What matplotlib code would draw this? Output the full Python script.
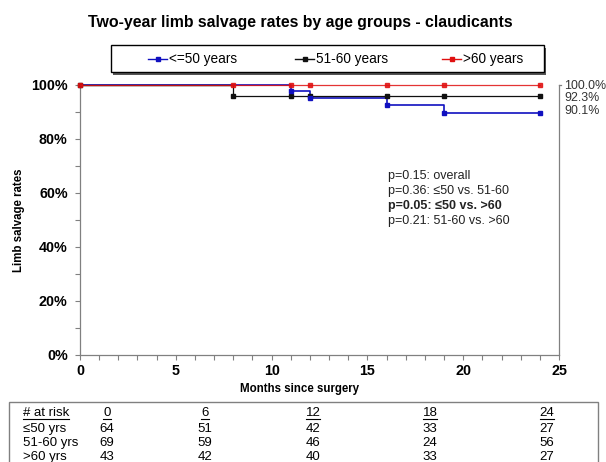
import matplotlib
matplotlib.use("Agg")
import matplotlib.pyplot as plt
from matplotlib.lines import Line2D
from matplotlib.patches import Rectangle
from matplotlib.ticker import MultipleLocator

plt.rcParams["font.family"] = ["Liberation Sans", "DejaVu Sans"]

# Kaplan-Meier steps (months, % limb salvage)
young_t = [0, 11, 12, 16, 19, 24]
young_s = [100, 97.7, 95.1, 92.5, 89.8, 89.8]
mid_t = [0, 8, 11, 12, 16, 19, 24]
mid_s = [100, 96.0, 96.0, 96.0, 96.0, 96.0, 96.0]
old_t = [0, 8, 11, 12, 16, 19, 24]
old_s = [100, 100, 100, 100, 100, 100, 100]
marker_young = [11, 12, 16, 19, 24]

series_names = ["<=50 years", "51-60 years", ">60 years"]
end_labels = ["100.0%", "92.3%", "90.1%"]
pvals = ["p=0.15: overall", "p=0.36: \u226450 vs. 51-60",
         "p=0.05: \u226450 vs. >60", "p=0.21: 51-60 vs. >60"]

risk_times = ["0", "6", "12", "18", "24"]
risk_groups = ["\u226450 yrs", "51-60 yrs", ">60 yrs"]
risk_young = [64, 51, 42, 33, 27]
risk_mid = [69, 59, 46, 24, 56]
risk_old = [43, 42, 40, 33, 27]

BLUE, BLACK, RED, GREY = "#1010c0", "#101010", "#e01010", "#808080"
W, H = 606, 462


def fx(px):
    return px / W


def fy(py):
    return 1 - py / H


fig = plt.figure(figsize=(6.06, 4.62), dpi=100)
ax = fig.add_axes([fx(80), fy(355), 479 / W, 270 / H])

ax.step(young_t, young_s, where="post", color=BLUE, lw=1.2, clip_on=False, zorder=3)
ax.plot(marker_young, [young_s[young_t.index(t)] for t in marker_young],
        ls="none", marker="s", ms=2.5, color=BLUE, clip_on=False, zorder=4)
ax.step(mid_t, mid_s, where="post", color=BLACK, lw=0.9, marker="s", ms=2.5,
        clip_on=False, zorder=3)
ax.plot([0, 8], [100, 100], color=BLACK, lw=0.9, clip_on=False, zorder=2)
ax.step(old_t, old_s, where="post", color=RED, lw=0.9, alpha=0.85, marker="s", ms=3,
        markeredgecolor=RED, clip_on=False, zorder=5)

ax.set_xlim(0, 25)
ax.set_ylim(0, 100)
ax.xaxis.set_major_locator(MultipleLocator(5))
ax.xaxis.set_minor_locator(MultipleLocator(1))
ax.yaxis.set_major_locator(MultipleLocator(20))
ax.yaxis.set_minor_locator(MultipleLocator(10))
ax.set_yticklabels([f"{int(v)}%" for v in ax.get_yticks()])
for lab in ax.get_xticklabels() + ax.get_yticklabels():
    lab.set_fontweight("bold")
ax.tick_params(which="both", direction="out", length=3.5, color=GREY, width=0.8,
               labelsize=10.3)
ax.tick_params(axis="y", pad=5.4)
ax.tick_params(axis="x", pad=3)
ax.spines["top"].set_visible(False)
for s in ["left", "bottom", "right"]:
    ax.spines[s].set_color(GREY)
    ax.spines[s].set_linewidth(0.9)
ax.plot([25, 25.1], [100, 100], color=GREY, lw=0.9, clip_on=False)

ax.set_xlabel("Months since surgery", fontsize=8.3, fontweight="bold")
ax.xaxis.set_label_coords((300 - 80) / 479, -0.105)
ax.set_ylabel("Limb salvage rates", fontsize=8.3, fontweight="bold")
ax.yaxis.set_label_coords(-0.115, 0.5)

for i, t in enumerate(end_labels):
    fig.text(fx(564), fy(86 + 12.3 * i), t, fontsize=8.9, va="center", color="#333333")

for i, t in enumerate(pvals):
    fig.text(fx(388), fy(176.5 + 14.8 * i), t, fontsize=9, va="center",
             fontweight="bold" if i == 2 else "normal", color="#222222")

fig.text(fx(300), fy(22), "Two-year limb salvage rates by age groups - claudicants",
         ha="center", va="center", fontsize=11.4, fontweight="bold")

# legend box (Excel style, evenly spaced entries, drop shadow)
fig.patches.append(Rectangle((fx(113), fy(74.5)), 433 / W, 27 / H, transform=fig.transFigure,
                             fc="#555555", ec="none", zorder=1))
fig.patches.append(Rectangle((fx(111), fy(72)), 433 / W, 27 / H, transform=fig.transFigure,
                             fc="white", ec="black", lw=1.0, zorder=2))
for i, (name, c) in enumerate(zip(series_names, (BLUE, BLACK, RED))):
    x0 = 148 + 147 * i
    fig.add_artist(Line2D([fx(x0), fx(x0 + 19)], [fy(58.5)] * 2, transform=fig.transFigure,
                          color=c, lw=1, zorder=3))
    fig.add_artist(Line2D([fx(x0 + 9.5)], [fy(58.5)], transform=fig.transFigure, color=c,
                          marker="s", ms=2.5, zorder=3))
    fig.text(fx(x0 + 21), fy(58.5), name, fontsize=9.8, va="center", zorder=3)

# number-at-risk table
fig.patches.append(Rectangle((fx(9), -0.05), 589 / W, 0.05 + fy(402),
                             transform=fig.transFigure, fill=False, ec=GREY, lw=1))
col_x = [107, 205, 313, 430, 547]
header = [fig.text(fx(23), fy(413.5), "# at risk", fontsize=9.5, va="center")]
for x, t in zip(col_x, risk_times):
    header.append(fig.text(fx(x), fy(413.5), t, fontsize=9.5, va="center", ha="center"))
for r, (g, vals) in enumerate(zip(risk_groups, [risk_young, risk_mid, risk_old])):
    y = fy(429 + 14 * r)
    fig.text(fx(23), y, g, fontsize=9.5, va="center")
    for x, v in zip(col_x, vals):
        fig.text(fx(x), y, str(v), fontsize=9.5, va="center", ha="center")

fig.canvas.draw()
inv = fig.transFigure.inverted()
for h in header:
    bb = h.get_window_extent()
    (x0, y0), (x1, _) = inv.transform([(bb.x0, bb.y0 + 1), (bb.x1, bb.y0)])
    fig.add_artist(Line2D([x0, x1], [y0, y0], transform=fig.transFigure,
                          color="black", lw=0.8))

fig.savefig("out.png", dpi=100)
